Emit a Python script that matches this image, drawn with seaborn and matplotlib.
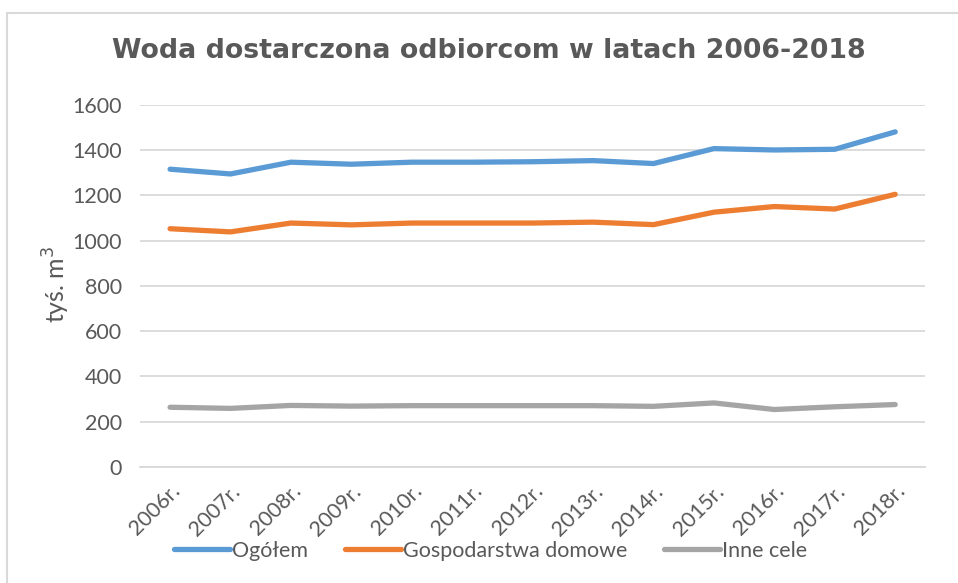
import numpy as np
import pandas as pd
import matplotlib
matplotlib.use("Agg")
import matplotlib.pyplot as plt
from matplotlib.patches import Rectangle
import seaborn as sns

# ── Data ─────────────────────────────────────────────────────────────────────
years = ["2006r.", "2007r.", "2008r.", "2009r.", "2010r.", "2011r.", "2012r.",
         "2013r.", "2014r.", "2015r.", "2016r.", "2017r.", "2018r."]
ogolem = [1316, 1295, 1347, 1338, 1347, 1347, 1349, 1354, 1341, 1407, 1401, 1404, 1481]
gospodarstwa = [1053, 1039, 1078, 1070, 1078, 1078, 1078, 1082, 1071, 1126, 1151, 1140, 1205]
inne = [264, 259, 272, 269, 271, 271, 271, 271, 268, 283, 254, 266, 276]
series_names = ["Ogółem", "Gospodarstwa domowe", "Inne cele"]

# ── Style ────────────────────────────────────────────────────────────────────
sns.set_theme(style="white")
plt.rcParams["font.family"] = ["Lato", "DejaVu Sans"]
PALETTE = {"Ogółem": "#5B9BD5", "Gospodarstwa domowe": "#ED7D31", "Inne cele": "#A5A5A5"}
TXT = "#595959"
GRID = "#D9D9D9"

df = pd.DataFrame({"rok": years * 3,
                   "wartosc": ogolem + gospodarstwa + inne,
                   "seria": [s for s in series_names for _ in years]})

fig = plt.figure(figsize=(9.58, 5.83), dpi=100)
ax = fig.add_axes([0.146, 0.199, 0.820, 0.621])

sns.lineplot(data=df, x="rok", y="wartosc", hue="seria", palette=PALETTE,
             linewidth=3.8, sort=False, ax=ax, solid_capstyle="round")

ax.set_xlim(-0.5, len(years) - 0.5)
ax.set_ylim(0, 1600)
ax.set_yticks(range(0, 1601, 200))
ax.yaxis.grid(True, color=GRID, linewidth=1.3)
ax.set_axisbelow(True)
for s in ["top", "right", "left"]:
    ax.spines[s].set_visible(False)
ax.spines["bottom"].set_color(GRID)
ax.spines["bottom"].set_linewidth(1.3)

ax.tick_params(axis="both", length=0, labelsize=15.5, colors=TXT)
ax.tick_params(axis="y", pad=13)
plt.setp(ax.get_xticklabels(), rotation=45, ha="right", rotation_mode="anchor")
ax.tick_params(axis="x", pad=10)

ax.set_xlabel("")
ax.set_ylabel("tyś. m$^3$", fontsize=18, color=TXT)
ax.yaxis.set_label_coords(-0.086, 0.505)

fig.text(0.51, 0.913, "Woda dostarczona odbiorcom w latach 2006-2018",
         ha="center", va="center", fontsize=19.3, fontweight="bold",
         color=TXT, family="DejaVu Sans")

handles, labels = ax.get_legend_handles_labels()
ax.legend(handles, labels, loc="center", bbox_to_anchor=(0.512, 0.055),
          bbox_transform=fig.transFigure, ncol=3, frameon=False,
          fontsize=15.5, labelcolor=TXT, handlelength=2.6, handletextpad=0.1,
          columnspacing=1.7)

# outer chart border (only left/top edges visible in the crop)
fig.patches.append(Rectangle((7 / 958, -0.1), 1.2, 1 - 13 / 583 + 0.1,
                             transform=fig.transFigure, fill=False,
                             edgecolor=GRID, linewidth=1.5))

fig.savefig("out.png", dpi=100)
